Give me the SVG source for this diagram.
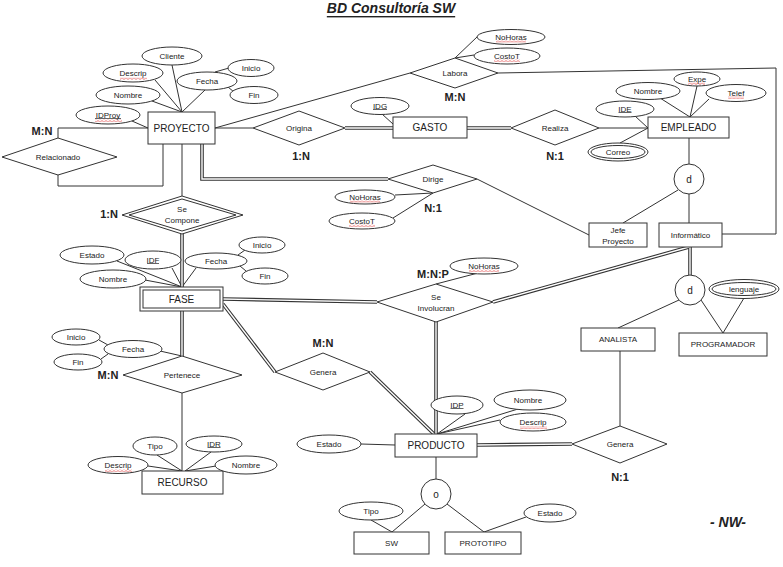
<svg xmlns="http://www.w3.org/2000/svg" xmlns:xlink="http://www.w3.org/1999/xlink" width="783" height="567" viewBox="0 0 783 567">
<style>
.ln{fill:none;stroke:#333;stroke-width:1}
.dlo{fill:none;stroke:#333;stroke-width:3.6}
.dli{fill:none;stroke:#fff;stroke-width:1.4}
.sh{fill:#fff;stroke:#333;stroke-width:1}
.ni{fill:none;stroke:#333;stroke-width:1}
.ul{stroke:#222;stroke-width:0.7}
text{font-family:"Liberation Sans",Arial,sans-serif;fill:#222;text-anchor:middle;dominant-baseline:central}
.a{font-size:8px}
.n{font-size:10px}
.c{font-size:11px;font-weight:bold}
.wv{fill:url(#wv)}
</style>
<defs>
<pattern id="wv" width="4" height="2.5" patternUnits="userSpaceOnUse"><path d="M0,2 L2,0.5 L4,2" fill="none" stroke="#d33" stroke-width="0.7"/></pattern>
<path id="d1" d="M202,144 V179 H388"/>
<path id="d2" d="M345,128 H393"/>
<path id="d3" d="M467,128 H511"/>
<path id="d4" d="M182,234 V287"/>
<path id="d5" d="M223,299 L377,302"/>
<path id="d6" d="M493,302 L689,247"/>
<path id="d7" d="M690,247 V275"/>
<path id="d8" d="M182,311 V356"/>
<path id="d9" d="M223,304 L275,372"/>
<path id="d10" d="M370,372 L434,434"/>
<path id="d11" d="M436,322 V434"/>
<path id="d12" d="M477,445 L572,444"/>
</defs>
<rect width="783" height="567" fill="#fff"/>
<text x="391" y="8" style="font-size:14px;font-weight:bold;font-style:italic;text-decoration:underline">BD Consultoría SW</text>

<g id="connectors">
<g class="ln">
<path d="M148,128 H58 V138"/>
<path d="M58,175 V186 H163 V144"/>
<path d="M182,144 V196"/>
<path d="M215,128 H253"/>
<path d="M215,128 L410,73"/>
<path d="M498,73 L776,68 V234 H722"/>
<path d="M599,128 H648"/>
<path d="M689,138 V164"/>
<path d="M689,194 V223"/>
<path d="M678,190 L623,223"/>
<path d="M477,179 L589,235"/>
<path d="M182,393 V471"/>
<path d="M679,300 L618,328"/>
<path d="M701,300 L723,333"/>
<path d="M620,351 V426"/>
<path d="M436,457 V479"/>
<path d="M425,504 L392,532"/>
<path d="M447,504 L484,532"/>
<path d="M172,65 L182,112 M155,80 L182,112 M152,101 L182,112 M132,121 L148,128 M205,90 L182,112 M215,72 L229,68 M228,87 L234,92"/>
<path d="M455,58 L477,37 M455,58 L474,55"/>
<path d="M382,114 L393,124"/>
<path d="M635,116 L648,128 M620,143 L648,128 M660,98 L690,117 M697,86 L690,117 M709,99 L690,117"/>
<path d="M395,195 L433,193 M393,218 L433,193"/>
<path d="M117,261 L182,287 M145,280 L182,287 M172,268 L182,287 M196,268 L182,287 M238,255 L245,250 M240,266 L246,271"/>
<path d="M436,284 L478,273"/>
<path d="M744,298 L723,333"/>
<path d="M361,444 L395,445 M465,414 L437,434 M518,409 L437,434 M500,420 L437,434"/>
<path d="M160,351 L182,356 M99,340 L108,345 M101,359 L108,354"/>
<path d="M157,455 L182,471 M211,452 L185,471 M148,466 L182,471 M216,466 L185,471"/>
<path d="M371,520 L392,532 M526,517 L484,532"/>
</g>
<g class="dlo"><use href="#d1"/><use href="#d2"/><use href="#d3"/><use href="#d4"/><use href="#d5"/><use href="#d6"/><use href="#d7"/><use href="#d8"/><use href="#d9"/><use href="#d10"/><use href="#d11"/><use href="#d12"/></g>
<g class="dli"><use href="#d1"/><use href="#d2"/><use href="#d3"/><use href="#d4"/><use href="#d5"/><use href="#d6"/><use href="#d7"/><use href="#d8"/><use href="#d9"/><use href="#d10"/><use href="#d11"/><use href="#d12"/></g>
</g>

<g id="proyecto"><rect class="sh" x="148" y="112" width="67" height="32"/><text class="n" x="181.5" y="128">PROYECTO</text></g>
<g id="proy-cliente"><ellipse class="sh" cx="172" cy="56" rx="30" ry="9"/><text class="a" x="172" y="56">Cliente</text></g>
<g id="proy-descrip"><ellipse class="sh" cx="133" cy="73" rx="30" ry="9"/><text class="a" x="133" y="73">Descrip</text><rect class="wv" x="120" y="77.5" width="27" height="2.5"/></g>
<g id="proy-nombre"><ellipse class="sh" cx="128" cy="95" rx="32" ry="9"/><text class="a" x="128" y="95">Nombre</text></g>
<g id="proy-idproy"><ellipse class="sh" cx="108" cy="115" rx="32" ry="9"/><text class="a" x="108" y="115">IDProy</text><line class="ul" x1="95" y1="118.5" x2="121" y2="118.5"/><rect class="wv" x="95" y="119.5" width="27" height="2.5"/></g>
<g id="proy-fecha"><ellipse class="sh" cx="207" cy="81" rx="30" ry="9"/><text class="a" x="207" y="81">Fecha</text></g>
<g id="proy-inicio"><ellipse class="sh" cx="251" cy="68" rx="23" ry="8.5"/><text class="a" x="251" y="68">Inicio</text></g>
<g id="proy-fin"><ellipse class="sh" cx="254" cy="95" rx="24" ry="8.5"/><text class="a" x="254" y="95">Fin</text></g>

<g id="relacionado"><polygon class="sh" points="2,157 58,138 117,157 58,175"/><text class="a" x="58" y="157">Relacionado</text><text class="c" x="42" y="131">M:N</text></g>

<g id="origina"><polygon class="sh" points="253,128 299,111 345,128 299,145"/><text class="a" x="299" y="128">Origina</text><text class="c" x="301" y="156">1:N</text></g>
<g id="labora"><polygon class="sh" points="410,73 455,58 498,73 455,88"/><text class="a" x="455" y="73">Labora</text><text class="c" x="455" y="97">M:N</text></g>
<g id="labora-nohoras"><ellipse class="sh" cx="511" cy="37" rx="34" ry="7.5"/><text class="a" x="511" y="37">NoHoras</text><rect class="wv" x="496" y="40.5" width="30" height="2.5"/></g>
<g id="labora-costot"><ellipse class="sh" cx="507" cy="56" rx="33" ry="8"/><text class="a" x="507" y="56">CostoT</text><rect class="wv" x="494" y="59.5" width="26" height="2.5"/></g>

<g id="gasto"><rect class="sh" x="393" y="117" width="74" height="21"/><text class="n" x="430" y="127.5">GASTO</text></g>
<g id="gasto-idg"><ellipse class="sh" cx="380" cy="106" rx="29" ry="8.5"/><text class="a" x="380" y="106">IDG</text><line class="ul" x1="373" y1="109.5" x2="387" y2="109.5"/></g>
<g id="realiza"><polygon class="sh" points="511,128 555,110 599,128 555,145"/><text class="a" x="555" y="128">Realiza</text><text class="c" x="555" y="156">N:1</text></g>

<g id="empleado"><rect class="sh" x="648" y="117" width="81" height="21"/><text class="n" x="688.5" y="127.5">EMPLEADO</text></g>
<g id="emp-ide"><ellipse class="sh" cx="625" cy="109" rx="29" ry="8"/><text class="a" x="625" y="109">IDE</text><line class="ul" x1="618.5" y1="112.5" x2="631.5" y2="112.5"/></g>
<g id="emp-correo"><ellipse class="sh" cx="618" cy="152" rx="30" ry="9"/><ellipse class="ni" cx="618" cy="152" rx="27" ry="6.5"/><text class="a" x="618" y="152">Correo</text></g>
<g id="emp-nombre"><ellipse class="sh" cx="648" cy="91" rx="32" ry="8.5"/><text class="a" x="648" y="91">Nombre</text></g>
<g id="emp-expe"><ellipse class="sh" cx="697" cy="79" rx="23" ry="7"/><text class="a" x="697" y="79">Expe</text><rect class="wv" x="688" y="82.5" width="17" height="2.5"/></g>
<g id="emp-telef"><ellipse class="sh" cx="736" cy="93" rx="30" ry="8.5"/><text class="a" x="736" y="93">Telef</text><rect class="wv" x="728" y="96.5" width="16" height="2.5"/></g>
<g id="d-empleado"><circle class="sh" cx="689" cy="179" r="15"/><text class="n" x="689" y="179">d</text></g>

<g id="jefe"><rect class="sh" x="589" y="223" width="58" height="24"/><text class="a" x="618" y="230">Jefe</text><text class="a" x="618" y="241">Proyecto</text></g>
<g id="informatico"><rect class="sh" x="659" y="223" width="63" height="24"/><text class="a" x="690.5" y="235">Informático</text></g>

<g id="dirige"><polygon class="sh" points="388,179 433,165 477,179 433,193"/><text class="a" x="433" y="179">Dirige</text><text class="c" x="433" y="208">N:1</text></g>
<g id="dirige-nohoras"><ellipse class="sh" cx="365" cy="197" rx="30" ry="7"/><text class="a" x="365" y="197">NoHoras</text><rect class="wv" x="350" y="200.5" width="30" height="2.5"/></g>
<g id="dirige-costot"><ellipse class="sh" cx="362" cy="221" rx="33" ry="8"/><text class="a" x="362" y="221">CostoT</text><rect class="wv" x="349" y="224.5" width="26" height="2.5"/></g>

<g id="secompone"><polygon class="sh" points="122,215 182,196 243,215 182,234"/><polygon class="ni" points="129,215 182,199 236,215 182,231"/><text class="a" x="182" y="209">Se</text><text class="a" x="182" y="220">Compone</text><text class="c" x="109" y="214">1:N</text></g>

<g id="fase"><rect class="sh" x="140" y="287" width="83" height="24"/><rect class="ni" x="143" y="290" width="77" height="18"/><text class="n" x="181.5" y="299">FASE</text></g>
<g id="fase-estado"><ellipse class="sh" cx="92" cy="255" rx="32" ry="9"/><text class="a" x="92" y="255">Estado</text></g>
<g id="fase-idf"><ellipse class="sh" cx="153" cy="260" rx="28" ry="9"/><text class="a" x="153" y="260">IDF</text><line class="ul" x1="147" y1="263.5" x2="159" y2="263.5"/></g>
<g id="fase-fecha"><ellipse class="sh" cx="216" cy="261" rx="31" ry="8"/><text class="a" x="216" y="261">Fecha</text></g>
<g id="fase-nombre"><ellipse class="sh" cx="113" cy="279" rx="33" ry="9"/><text class="a" x="113" y="279">Nombre</text></g>
<g id="fase-inicio"><ellipse class="sh" cx="262" cy="245" rx="23" ry="8"/><text class="a" x="262" y="245">Inicio</text></g>
<g id="fase-fin"><ellipse class="sh" cx="265" cy="276" rx="23" ry="8"/><text class="a" x="265" y="276">Fin</text></g>

<g id="seinvolucran"><polygon class="sh" points="377,302 436,284 493,302 436,322"/><text class="a" x="436" y="297">Se</text><text class="a" x="436" y="308">Involucran</text><text class="c" x="433" y="274">M:N:P</text></g>
<g id="seinv-nohoras"><ellipse class="sh" cx="484" cy="266" rx="34" ry="8"/><text class="a" x="484" y="266">NoHoras</text><rect class="wv" x="469" y="269.5" width="30" height="2.5"/></g>

<g id="d-informatico"><circle class="sh" cx="690" cy="290" r="15"/><text class="n" x="690" y="290">d</text></g>
<g id="lenguaje"><ellipse class="sh" cx="744" cy="289" rx="35" ry="9.5"/><ellipse class="ni" cx="744" cy="289" rx="32" ry="6.5"/><text class="a" x="744" y="289">lenguaje</text></g>
<g id="analista"><rect class="sh" x="581" y="328" width="74" height="23"/><text class="a" x="618" y="339.5">ANALISTA</text></g>
<g id="programador"><rect class="sh" x="679" y="333" width="88" height="23"/><text class="a" x="723" y="344.5">PROGRAMADOR</text></g>

<g id="genera-n1"><polygon class="sh" points="572,444 620,426 667,444 620,463"/><text class="a" x="620" y="444">Genera</text><text class="c" x="620" y="477">N:1</text></g>
<g id="genera-mn"><polygon class="sh" points="275,372 323,353 370,372 323,390"/><text class="a" x="323" y="372">Genera</text><text class="c" x="323" y="343">M:N</text></g>

<g id="producto"><rect class="sh" x="395" y="434" width="82" height="23"/><text class="n" x="436" y="445.5">PRODUCTO</text></g>
<g id="prod-estado"><ellipse class="sh" cx="329" cy="444" rx="32" ry="9"/><text class="a" x="329" y="444">Estado</text></g>
<g id="prod-idp"><ellipse class="sh" cx="457" cy="405" rx="26" ry="9"/><text class="a" x="457" y="405">IDP</text><line class="ul" x1="450.5" y1="408.5" x2="463.5" y2="408.5"/></g>
<g id="prod-nombre"><ellipse class="sh" cx="530" cy="400" rx="36" ry="10"/><text class="a" x="528" y="400">Nombre</text></g>
<g id="prod-descrip"><ellipse class="sh" cx="533" cy="422" rx="33" ry="9"/><text class="a" x="533" y="422">Descrip</text><rect class="wv" x="520" y="426.5" width="27" height="2.5"/></g>

<g id="pertenece"><polygon class="sh" points="123,375 182,356 242,375 182,393"/><text class="a" x="182" y="375">Pertenece</text><text class="c" x="108" y="375">M:N</text></g>
<g id="pert-fecha"><ellipse class="sh" cx="133" cy="349" rx="29" ry="8.5"/><text class="a" x="133" y="349">Fecha</text></g>
<g id="pert-inicio"><ellipse class="sh" cx="76" cy="337" rx="24" ry="8"/><text class="a" x="76" y="337">Inicio</text></g>
<g id="pert-fin"><ellipse class="sh" cx="78" cy="362" rx="24" ry="8"/><text class="a" x="78" y="362">Fin</text></g>

<g id="recurso"><rect class="sh" x="142" y="471" width="81" height="23"/><text class="n" x="182.5" y="482.5">RECURSO</text></g>
<g id="rec-tipo"><ellipse class="sh" cx="155" cy="446" rx="22" ry="9"/><text class="a" x="155" y="446">Tipo</text></g>
<g id="rec-idr"><ellipse class="sh" cx="214" cy="444" rx="28" ry="8"/><text class="a" x="214" y="444">IDR</text><line class="ul" x1="207.5" y1="447.5" x2="220.5" y2="447.5"/></g>
<g id="rec-descrip"><ellipse class="sh" cx="118" cy="465" rx="30" ry="8.5"/><text class="a" x="118" y="465">Descrip</text><rect class="wv" x="105" y="469.5" width="27" height="2.5"/></g>
<g id="rec-nombre"><ellipse class="sh" cx="246" cy="465" rx="31" ry="9"/><text class="a" x="246" y="465">Nombre</text></g>

<g id="o-producto"><circle class="sh" cx="436" cy="494" r="15"/><text class="n" x="436" y="494">o</text></g>
<g id="sw"><rect class="sh" x="354" y="532" width="75" height="22"/><text class="a" x="391.5" y="543">SW</text></g>
<g id="prototipo"><rect class="sh" x="445" y="532" width="76" height="22"/><text class="a" x="483" y="543">PROTOTIPO</text></g>
<g id="sw-tipo"><ellipse class="sh" cx="371" cy="511" rx="32" ry="9"/><text class="a" x="371" y="511">Tipo</text></g>
<g id="proto-estado"><ellipse class="sh" cx="550" cy="513" rx="26" ry="9"/><text class="a" x="550" y="513">Estado</text></g>

<text x="728" y="522" style="font-size:14px;font-weight:bold;font-style:italic">- NW-</text>
</svg>
